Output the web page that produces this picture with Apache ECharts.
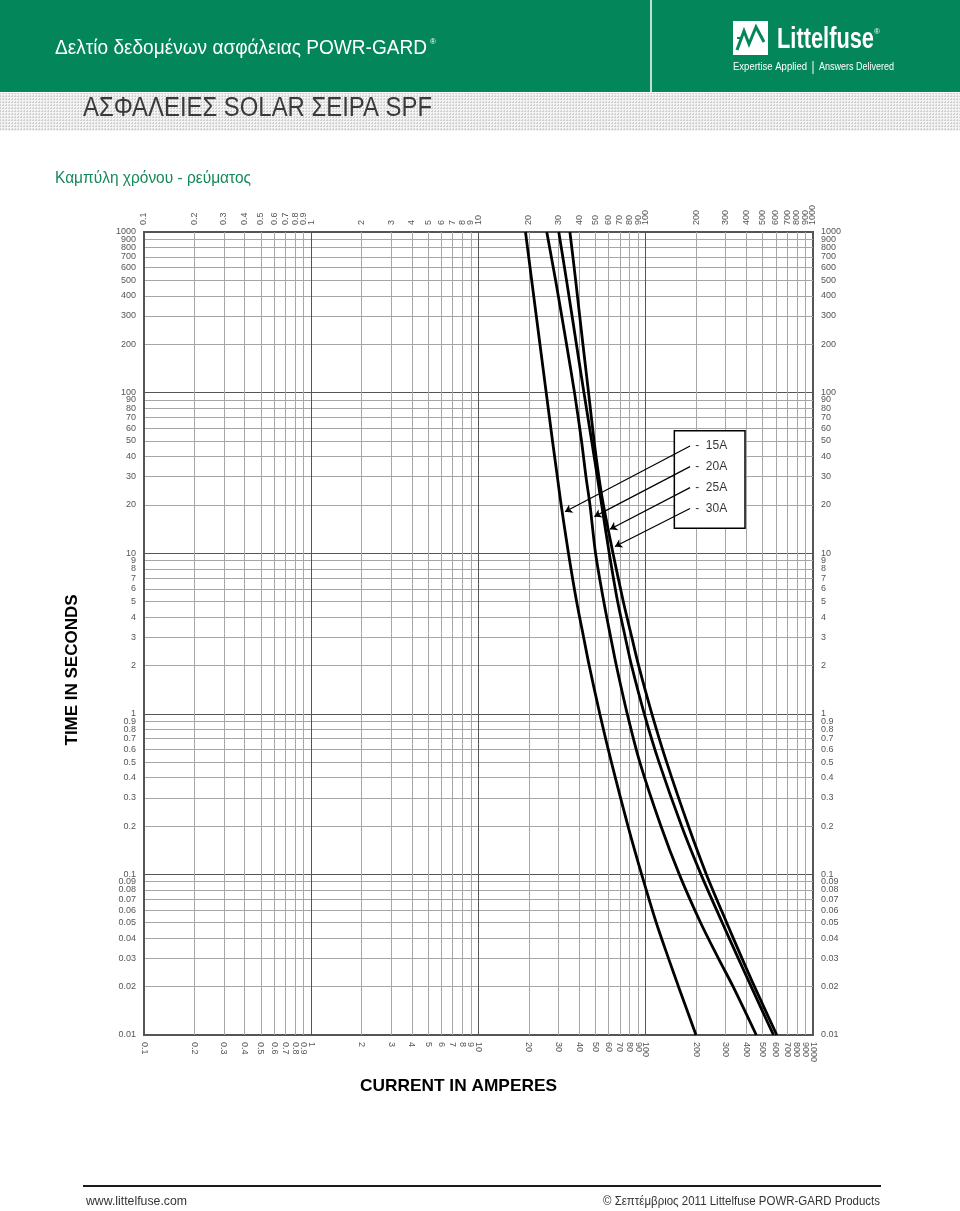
<!DOCTYPE html>
<html>
<head>
<meta charset="utf-8">
<script src="https://cdn.jsdelivr.net/npm/echarts@6/dist/echarts.min.js"></script>
<style>
html,body{margin:0;padding:0;background:#fff;}
#c{width:960px;height:1211px;}
</style>
</head>
<body>
<div id="c"></div>
<script>
// ---------- data ----------
const X_TICKS = [0.1,0.2,0.3,0.4,0.5,0.6,0.7,0.8,0.9,1,2,3,4,5,6,7,8,9,10,20,30,40,50,60,70,80,90,100,200,300,400,500,600,700,800,900,1000];
const Y_TICKS = [0.01,0.02,0.03,0.04,0.05,0.06,0.07,0.08,0.09,0.1,0.2,0.3,0.4,0.5,0.6,0.7,0.8,0.9,1,2,3,4,5,6,7,8,9,10,20,30,40,50,60,70,80,90,100,200,300,400,500,600,700,800,900,1000];
const X_MAJOR = [0.1,1,10,100,1000];
const Y_MAJOR = [0.01,0.1,1,10,100,1000];

const CURVE_NAMES = ['15A','20A','25A','30A'];
// time in seconds (shared by all curves)
const TIMES = [1000,500,200,100,50,30,20,10,5,3,2,1,0.5,0.2,0.1,0.05,0.03,0.02,0.01];
// current in amperes at each time
const AMPS_15A = [19.1,20.8,23.3,25.4,27.7,29.6,31.2,34.5,38.6,42.5,45.9,53.1,62.3,78.3,94.5,115.6,136.8,157,199.7];
const AMPS_20A = [25.6,28.9,33.6,37.5,41.3,43.9,46.4,50.1,56.1,61.7,66.7,77.5,92.1,123.2,158.7,212.8,271.9,333,458];
const AMPS_25A = [30.2,33.6,38.5,42.7,47.5,51.3,54.5,60.5,67.9,75.4,82.2,98.0,120.0,163.8,213.9,286.8,357.6,427.1,580.4];
const AMPS_30A = [35.2,38.1,42.1,45.5,49.1,52.4,55.8,63.7,73.4,82.5,90.6,108.8,133.3,179.9,230.5,304.8,376.3,446.9,607.5];

// legend box & arrows (data coordinates: [amperes, seconds])
const LEGEND_BOX = [[148.2, 57.9],[392.2, 14.3]];
const LEGEND_LABEL_AMPS = 196;
const LEGEND_LABEL_TIMES = [46.5, 34.6, 25.6, 19.0];
const ARROW_FROM = [[184, 46.5],[184, 34.6],[184, 25.6],[184, 19.0]];
const ARROW_TO = [[32.9, 18.1],[49.3, 16.9],[61.1, 14.1],[65.5, 11.0]];

// ---------- helpers ----------
const mctx = document.createElement('canvas').getContext('2d');
function fitScale(text, font, width){
  mctx.font = font;
  const w = mctx.measureText(text).width;
  return w > 0 ? width / w : 1;
}
function txt(text, x, y, font, fill, width, align, rotation){
  return {
    type:'text', x:x, y:y, rotation: rotation || 0,
    scaleX: width ? fitScale(text, font, width) : 1,
    silent:true,
    style:{text:text, x:0, y:0, font:font, fill:fill, textAlign: align || 'left', textVerticalAlign:'middle'}
  };
}
function fmt(v){ return String(parseFloat(Number(v).toPrecision(3))); }
// label list rotated to start at a value whose neighbours are well spaced,
// so the min/max-label overlap check never drops the packed 900/1000 labels
function labelOrder(ticks, start){
  const i = ticks.indexOf(start);
  return ticks.slice(i).concat(ticks.slice(0, i));
}

// dotted band pattern
const pat = document.createElement('canvas');
pat.width = 3; pat.height = 3;
const pctx = pat.getContext('2d');
pctx.fillStyle = '#f3f3f3'; pctx.fillRect(0,0,3,3);
pctx.fillStyle = '#cfcfcf'; pctx.fillRect(0,0,1,1); pctx.fillRect(0,2,1,1); pctx.fillRect(2,0,1,1);

const GREEN = '#02865a';
const FONT = "'Liberation Sans', Arial, sans-serif";
const AX_MAX = 1000.001; // tiny margin so the 1000 tick survives float rounding

const chart = echarts.init(document.getElementById('c'), null, {renderer:'canvas', width:960, height:1211});

const lblBase = {fontSize:9, color:'#555', fontFamily:FONT, interval:0, hideOverlap:false,
  showMinLabel:true, showMaxLabel:true, formatter:fmt};

function xAxisDef(pos, labels, split, ticks, color){
  return {
    type:'log', logBase:10, min:0.1, max:AX_MAX, position:pos, gridIndex:0,
    axisLine:{show:false},
    axisTick:{show:false, customValues:ticks},
    axisLabel: labels ? Object.assign({customValues:labelOrder(ticks, 0.3), rotate:-90, margin:7}, lblBase) : {show:false},
    splitLine: split ? {show:true, lineStyle:{color:color, width:1}} : {show:false},
    minorTick:{show:false}, minorSplitLine:{show:false}
  };
}
function yAxisDef(pos, labels, split, ticks, color){
  return {
    type:'log', logBase:10, min:0.01, max:AX_MAX, position:pos, gridIndex:0,
    axisLine:{show:false},
    axisTick:{show:false, customValues:ticks},
    axisLabel: labels ? Object.assign({customValues:labelOrder(ticks, 0.03), margin:8}, lblBase) : {show:false},
    splitLine: split ? {show:true, lineStyle:{color:color, width:1}} : {show:false},
    minorTick:{show:false}, minorSplitLine:{show:false}
  };
}

const AMPS = [AMPS_15A, AMPS_20A, AMPS_25A, AMPS_30A];
const series = CURVE_NAMES.map((name, k) => ({
  name: name, type:'line', xAxisIndex:0, yAxisIndex:0,
  data: TIMES.map((t, i) => [AMPS[k][i], t]),
  showSymbol:false, smooth:0.3, silent:true, z:3,
  lineStyle:{color:'#000', width:2.8},
  markLine:{
    silent:true, symbol:['none','arrow'], symbolSize:7,
    lineStyle:{color:'#000', width:1.2, type:'solid'},
    label:{show:false},
    data:[[{coord:ARROW_FROM[k]},{coord:ARROW_TO[k]}]]
  }
}));
series.push({
  name:'legendBox', type:'scatter', xAxisIndex:0, yAxisIndex:0, z:4,
  symbol:'circle', symbolSize:1, itemStyle:{color:'rgba(0,0,0,0)'}, silent:true,
  data: LEGEND_LABEL_TIMES.map((t,i) => ({value:[LEGEND_LABEL_AMPS, t], name:'-  ' + CURVE_NAMES[i]})),
  label:{show:true, position:'right', distance:0, formatter:p => p.name, fontSize:12, color:'#000', fontFamily:FONT},
  markArea:{
    silent:true,
    itemStyle:{color:'#fff', borderColor:'#000', borderWidth:1.5},
    data:[[{coord:LEGEND_BOX[0]},{coord:LEGEND_BOX[1]}]]
  }
});

const graphic = [
  {type:'rect', shape:{x:0,y:0,width:960,height:92}, style:{fill:GREEN}, silent:true},
  {type:'line', shape:{x1:651,y1:0,x2:651,y2:92}, style:{stroke:'#ffffff', lineWidth:1.5}, silent:true},
  txt('Δελτίο δεδομένων ασφάλειας POWR-GARD', 55, 48, "20px " + FONT, '#fff', 372),
  txt('®', 430, 42, "8px " + FONT, '#fff'),
  {type:'rect', shape:{x:733,y:21,width:35,height:34}, style:{fill:'#fff'}, silent:true},
  {type:'polyline', shape:{points:[[737,50],[744,31],[749,44],[756,27],[764,42]]}, style:{stroke:GREEN, lineWidth:3, fill:null}, silent:true},
  {type:'polyline', shape:{points:[[737,38],[741,38]]}, style:{stroke:GREEN, lineWidth:2, fill:null}, silent:true},
  txt('Littelfuse', 777, 40, "bold 29px " + FONT, '#fff', 97),
  txt('®', 874, 32, "8px " + FONT, '#fff'),
  txt('Expertise Applied', 733, 67, "11px " + FONT, '#fff', 74),
  {type:'line', shape:{x1:813,y1:61,x2:813,y2:74}, style:{stroke:'#fff', lineWidth:1}, silent:true},
  txt('Answers Delivered', 819, 67, "11px " + FONT, '#fff', 75),
  {type:'rect', shape:{x:0,y:93,width:960,height:38}, style:{fill:{image:pat, repeat:'repeat'}}, silent:true},
  txt('ΑΣΦΑΛΕΙΕΣ SOLAR ΣΕΙΡΑ SPF', 83, 109, "27px " + FONT, '#3a3a3a', 349),
  txt('Καμπύλη χρόνου - ρεύματος', 55, 178, "17px " + FONT, '#14895a', 196),
  txt('TIME IN SECONDS', 73, 670, "bold 16px " + FONT, '#000', 151, 'center', Math.PI/2),
  txt('CURRENT IN AMPERES', 458.5, 1086, "bold 17px " + FONT, '#000', 197, 'center'),
  {type:'line', shape:{x1:83,y1:1186,x2:881,y2:1186}, style:{stroke:'#1a1a1a', lineWidth:2}, silent:true},
  txt('www.littelfuse.com', 86, 1202, "12px " + FONT, '#333', 101),
  txt('© Σεπτέμβριος 2011 Littelfuse POWR-GARD Products', 880, 1202, "12px " + FONT, '#333', 277, 'right')
];

chart.setOption({
  animation:false,
  backgroundColor:'#fff',
  grid:{left:144, top:232, width:669, height:803, show:true, borderColor:'#555', borderWidth:2, backgroundColor:'rgba(0,0,0,0)'},
  xAxis:[
    xAxisDef('bottom', true, true, X_TICKS, '#a6a6a6'),
    xAxisDef('top', true, false, X_TICKS),
    xAxisDef('bottom', false, true, X_MAJOR, '#555')
  ],
  yAxis:[
    yAxisDef('left', true, true, Y_TICKS, '#a6a6a6'),
    yAxisDef('right', true, false, Y_TICKS),
    yAxisDef('left', false, true, Y_MAJOR, '#555')
  ],
  series: series,
  graphic: graphic
});
</script>
</body>
</html>
